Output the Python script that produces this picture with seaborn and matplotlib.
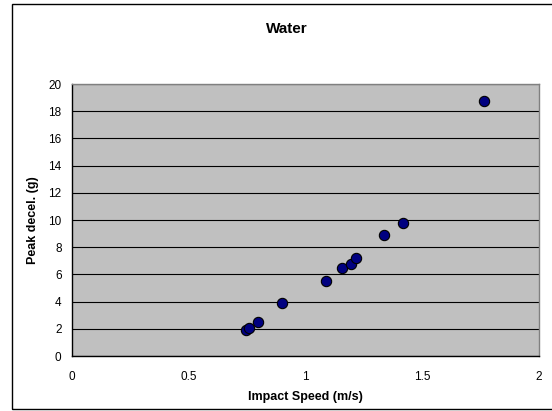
import matplotlib
matplotlib.use("Agg")
import matplotlib.pyplot as plt
from matplotlib.patches import Rectangle
import seaborn as sns
import pandas as pd

# Impact tests into water
impact_speed = [0.747, 0.758, 0.798, 0.899, 1.087, 1.157, 1.197, 1.215, 1.338, 1.417, 1.765]
peak_decel = [1.92, 2.04, 2.51, 3.93, 5.53, 6.44, 6.74, 7.21, 8.88, 9.76, 18.72]
x_ticks = [0, 0.5, 1, 1.5, 2]
x_tick_labels = ["0", "0.5", "1", "1.5", "2"]
y_ticks = [0, 2, 4, 6, 8, 10, 12, 14, 16, 18, 20]

df = pd.DataFrame({"Impact Speed (m/s)": impact_speed, "Peak decel. (g)": peak_decel})

sns.set_theme(style="white")
plt.rcParams["font.family"] = ["Liberation Sans", "DejaVu Sans"]
plt.rcParams["text.color"] = "black"
plt.rcParams["axes.labelcolor"] = "black"

fig = plt.figure(figsize=(5.52, 4.11), dpi=100)
ax = fig.add_axes([72 / 552, 1 - 356 / 411, (539 - 72) / 552, (356 - 84) / 411])
ax.set_facecolor("#C0C0C0")

sns.scatterplot(data=df, x="Impact Speed (m/s)", y="Peak decel. (g)", ax=ax,
                color="#000080", edgecolor="black", linewidth=0.8, s=55, zorder=3)

ax.set_xlim(0, 2)
ax.set_ylim(0, 20)
ax.set_xticks(x_ticks)
ax.set_xticklabels(x_tick_labels)
ax.set_yticks(y_ticks)
ax.yaxis.grid(True, color="black", linewidth=0.8)
ax.xaxis.grid(False)
ax.set_axisbelow(True)

ax.tick_params(axis="both", labelsize=8.5, colors="black", direction="out",
               length=3.5, width=0.8)
ax.tick_params(axis="y", pad=4)
ax.tick_params(axis="x", pad=7.5)

for side in ("left", "bottom"):
    ax.spines[side].set_color("black")
    ax.spines[side].set_linewidth(1.0)
for side in ("top", "right"):
    ax.spines[side].set_color("#808080")
    ax.spines[side].set_linewidth(1.0)

ax.set_xlabel("Impact Speed (m/s)", fontsize=9, fontweight="bold", color="black")
ax.xaxis.set_label_coords(0.5, -(397 - 356) / 272)
ax.xaxis.label.set_va("center")
ax.set_ylabel("Peak decel. (g)", fontsize=9, fontweight="bold", color="black")
ax.yaxis.set_label_coords(-(72 - 33) / 467, 0.5)
ax.yaxis.label.set_va("center")

fig.text(287 / 552, 1 - 29 / 411, "Water", ha="center", va="center",
         fontsize=11, fontweight="bold", color="black")

# chart frame
fig.patches.append(Rectangle((12 / 552, 1 - 409 / 411), 0.99, (409 - 4) / 411,
                             transform=fig.transFigure, fill=False,
                             edgecolor="black", linewidth=1.0))

fig.savefig("out.png", dpi=100, facecolor="white")
